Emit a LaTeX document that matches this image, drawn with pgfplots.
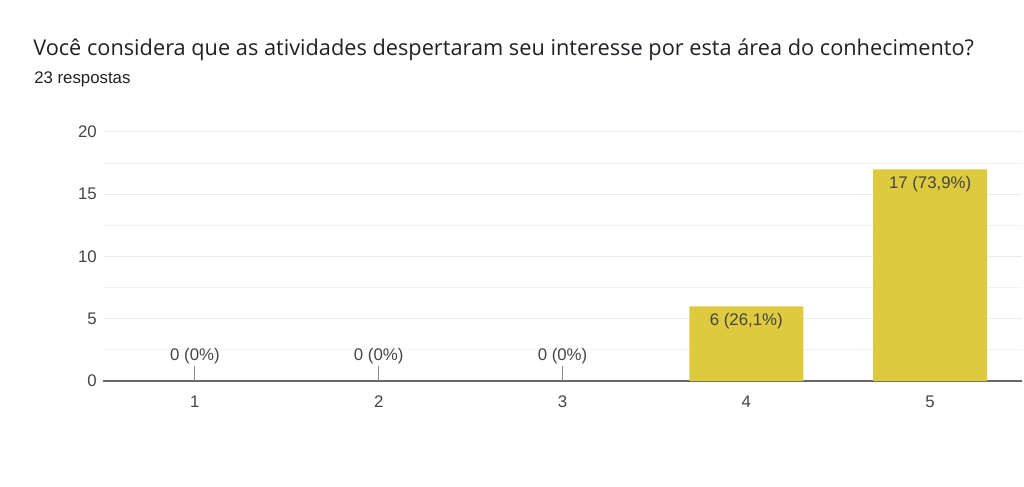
\documentclass[border=0pt]{standalone}
\usepackage{fontspec}
\setmainfont{Liberation Sans}
\newfontfamily\titlefont{Open Sans}
\usepackage{pgfplots}
\pgfplotsset{compat=1.18}
\definecolor{barcol}{HTML}{DDCA3F}
\definecolor{txtcol}{HTML}{444444}
\definecolor{titlecol}{HTML}{202124}
\begin{document}
\begin{tikzpicture}[x=0.75pt,y=0.75pt]
\useasboundingbox (0,0) rectangle (1024,486);
\node[anchor=base west, inner sep=0, text=titlecol] at (33,430)
  {\titlefont\fontsize{16.3}{19}\selectfont Você considera que as atividades despertaram seu interesse por esta área do conhecimento?};
\node[anchor=base west, inner sep=0, text=titlecol] at (34,402)
  {\fontsize{12.6}{15}\selectfont 23 respostas};
\begin{axis}[
    at={(77.25pt,78.75pt)}, anchor=south west,
    scale only axis,
    width=689.25pt, height=186.75pt,
    xmin=0.5, xmax=5.5,
    ymin=0, ymax=20,
    xtick={1,2,3,4,5},
    ytick={0,5,10,15,20},
    minor ytick={2.5,7.5,12.5,17.5},
    ymajorgrids=true, yminorgrids=true,
    major grid style={color=black!8, line width=0.75pt},
    minor grid style={color=black!5, line width=0.75pt},
    axis lines*=left,
    y axis line style={draw=none},
    x axis line style={color=black!60, line width=1.5pt},
    major tick length=0pt, minor tick length=0pt,
    tick label style={font=\fontsize{12.6}{15}\selectfont, text=txtcol},
    yticklabel style={anchor=east, inner sep=0pt, xshift=-4.5pt},
    xticklabel style={anchor=north, inner sep=0pt, yshift=-11pt},
    /pgf/number format/assume math mode=true,
    clip=false,
]
\addplot[ybar, bar width=0.62, fill=barcol, draw=none,
    point meta=explicit symbolic, nodes near coords,
    every node near coord/.append style={anchor=north, inner sep=0pt, yshift=-5pt,
      font=\fontsize{12.6}{15}\selectfont, text=txtcol}]
  coordinates {(4,6)[6 (26,1\%)] (5,17)[17 (73,9\%)]};
\addplot[only marks, mark=|, mark size=5.6pt,
    mark options={yshift=5.6pt, draw=black!45, line width=0.75pt},
    point meta=explicit symbolic, nodes near coords,
    every node near coord/.append style={anchor=south, inner sep=0pt, yshift=7pt,
      font=\fontsize{12.6}{15}\selectfont, text=txtcol}]
  coordinates {(1,0)[0 (0\%)] (2,0)[0 (0\%)] (3,0)[0 (0\%)]};
\end{axis}
\end{tikzpicture}
\end{document}
